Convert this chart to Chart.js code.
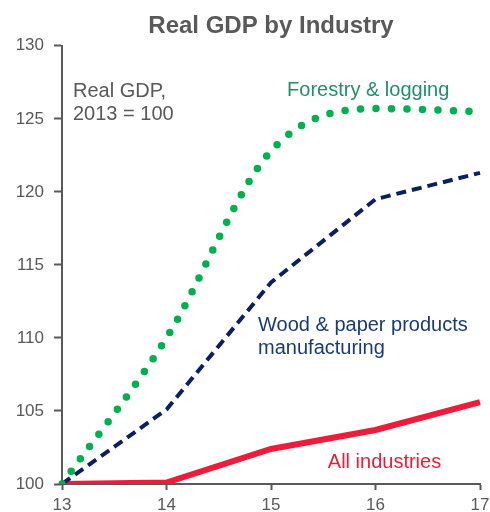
<!DOCTYPE html>
<html lang="en">
<head>
  <meta charset="UTF-8">
  <title>Real GDP by Industry</title>
  <script src="https://cdn.jsdelivr.net/npm/chart.js"></script>
  <style>
    html, body { margin: 0; padding: 0; background: #fff; }
    #wrap { width: 490px; height: 512px; }
  </style>
</head>
<body>
  <div id="wrap"><canvas id="gdpChart"></canvas></div>

  <script>
    // years (20xx) and index values, 2013 = 100
    const years = ['13', '14', '15', '16', '17'];
    const forestry = [100, 110.0, 122.8, 125.7, 125.5];
    const woodPaper = [100, 105.1, 113.8, 119.5, 121.3];
    const allIndustries = [100, 100.1, 102.4, 103.7, 105.6];
    const yTicks = [100, 105, 110, 115, 120, 125, 130];

    const grey = '#595959';
    const font = 'Liberation Sans, Arial, sans-serif';

    // text labels placed in data coordinates (x = category index, y = value)
    const notes = [
      { lines: ['Real GDP,', '2013 = 100'], x: 0.105, y: 126.85, color: grey, align: 'left' },
      { lines: ['Forestry & logging'], x: 2.93, y: 126.95, color: '#1f9166', align: 'center' },
      { lines: ['Wood & paper products', 'manufacturing'], x: 1.876, y: 110.86, color: '#1b3a74', align: 'left' },
      { lines: ['All industries'], x: 3.086, y: 101.5, color: '#ee1c3a', align: 'center' }
    ];

    const notesPlugin = {
      id: 'notes',
      afterDatasetsDraw(chart) {
        const ctx = chart.ctx;
        const xs = chart.scales.x, ys = chart.scales.y;
        ctx.save();
        ctx.font = '20px ' + font;
        ctx.textBaseline = 'middle';
        notes.forEach(n => {
          ctx.fillStyle = n.color;
          ctx.textAlign = n.align;
          const px = xs.getPixelForValue(n.x);
          const py = ys.getPixelForValue(n.y);
          n.lines.forEach((t, i) => ctx.fillText(t, px, py + i * 23));
        });
        ctx.restore();
      }
    };

    new Chart(document.getElementById('gdpChart'), {
      type: 'line',
      data: {
        labels: years,
        datasets: [
          {
            label: 'Forestry & logging',
            data: forestry,
            borderColor: '#00b050',
            borderWidth: 7.5,
            borderDash: [0, 15.5],
            borderCapStyle: 'round',
            cubicInterpolationMode: 'monotone',
            pointRadius: 0
          },
          {
            label: 'Wood & paper products manufacturing',
            data: woodPaper,
            borderColor: '#0b1f5c',
            borderWidth: 4,
            borderDash: [10, 6],
            tension: 0,
            pointRadius: 0
          },
          {
            label: 'All industries',
            data: allIndustries,
            borderColor: '#ee1c3a',
            borderWidth: 6,
            tension: 0,
            pointRadius: 0
          }
        ]
      },
      options: {
        responsive: true,
        maintainAspectRatio: false,
        animation: false,
        layout: { padding: { left: 0, right: 10, top: 0, bottom: 0 } },
        plugins: {
          legend: { display: false },
          tooltip: { enabled: false },
          title: {
            display: true,
            text: 'Real GDP by Industry',
            fullSize: false,
            color: grey,
            font: { family: font, size: 24, weight: 'bold' },
            padding: { top: 12, bottom: 5 }
          }
        },
        scales: {
          x: {
            offset: false,
            grid: { display: true, drawOnChartArea: false, tickLength: 6, tickColor: grey, tickWidth: 2 },
            border: { color: grey, width: 2 },
            ticks: { color: grey, font: { family: font, size: 17 }, padding: 5, maxRotation: 0 },
            afterFit(scale) {
              scale.height = 28;
              scale.paddingLeft = 0;
              scale.paddingRight = 0;
            }
          },
          y: {
            min: 100,
            max: 130,
            afterBuildTicks(scale) { scale.ticks = yTicks.map(v => ({ value: v })); },
            grid: { display: true, drawOnChartArea: false, tickLength: 8, tickColor: grey, tickWidth: 2 },
            border: { color: grey, width: 2 },
            ticks: { color: grey, font: { family: font, size: 17 }, padding: 10 },
            afterFit(scale) {
              scale.width = 62;
              scale.paddingTop = 0;
              scale.paddingBottom = 0;
            }
          }
        }
      },
      plugins: [notesPlugin]
    });
  </script>
</body>
</html>
